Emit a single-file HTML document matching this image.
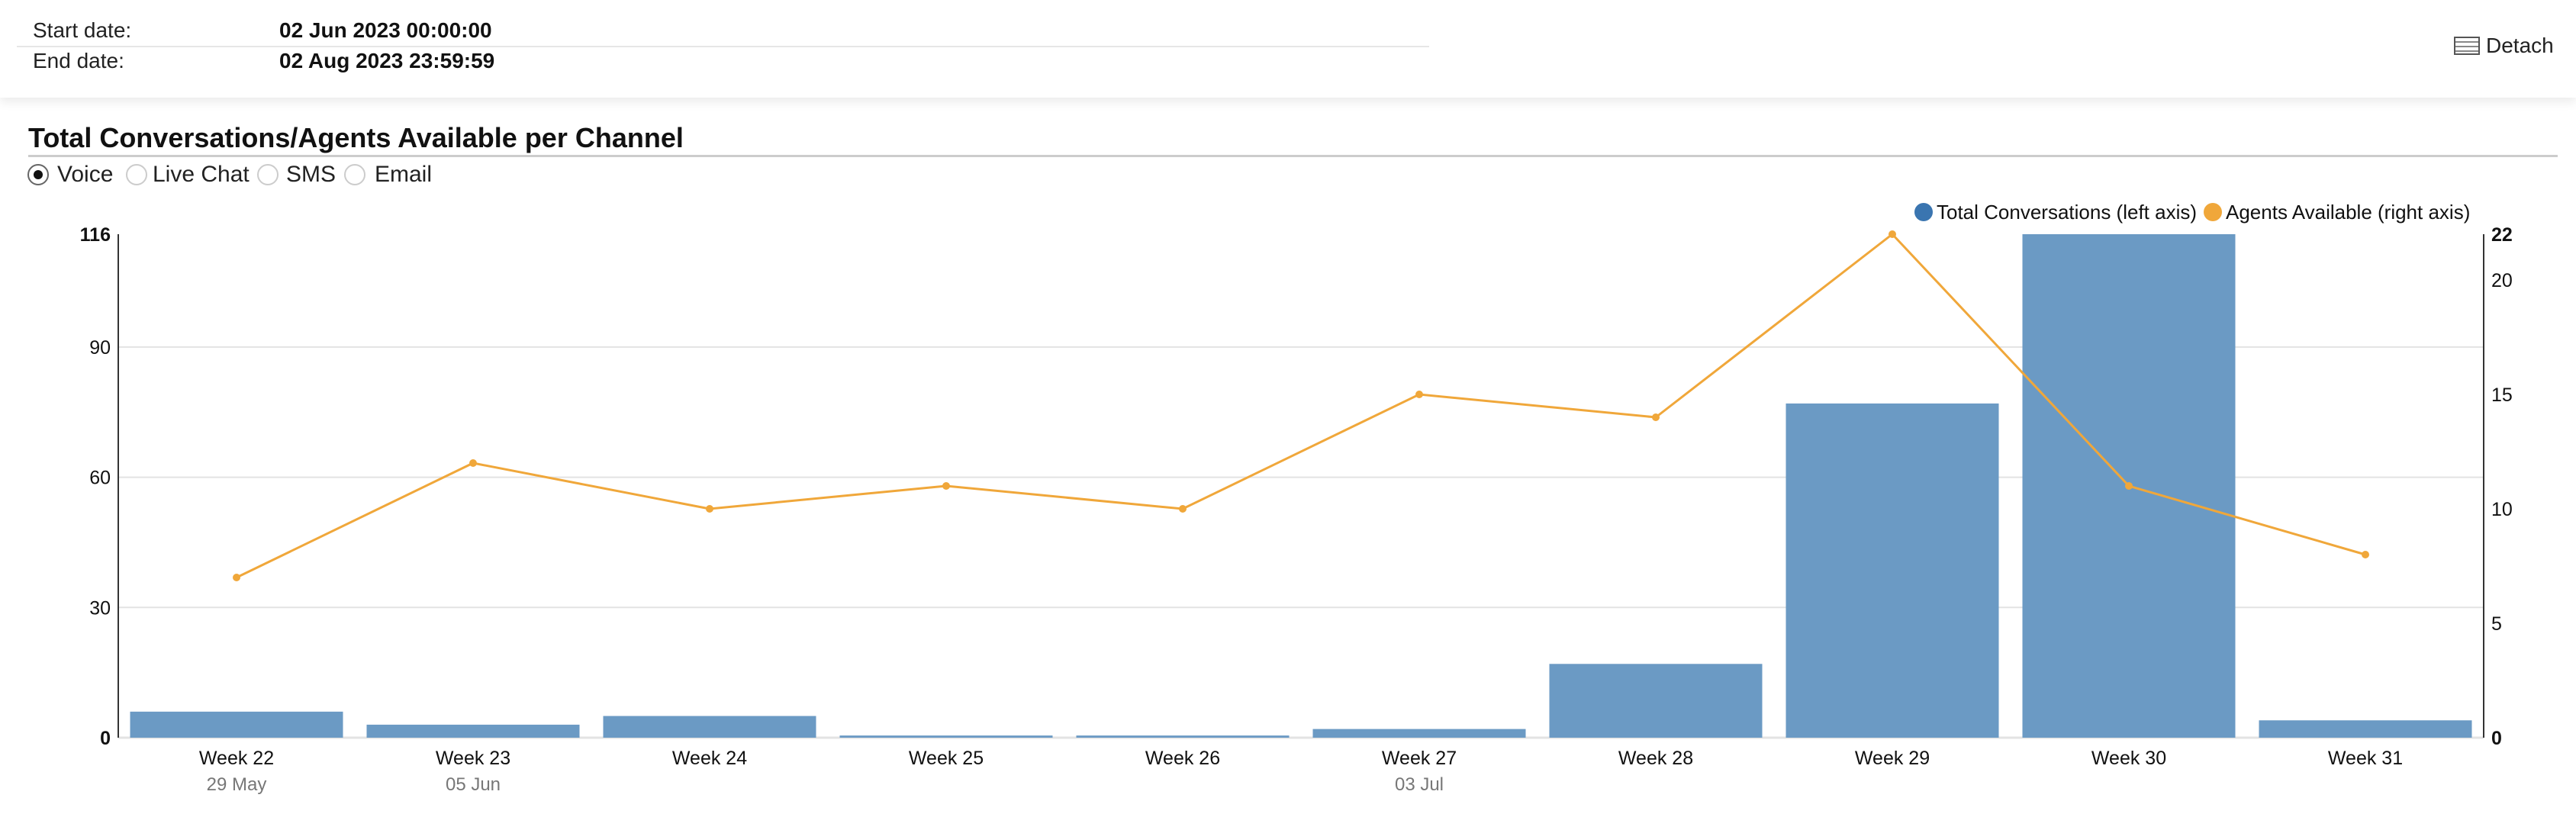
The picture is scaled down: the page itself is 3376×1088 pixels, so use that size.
<!DOCTYPE html>
<html><head><meta charset="utf-8"><style>
body{margin:0;width:3376px;height:1088px;background:#fff;font-family:"Liberation Sans",sans-serif;position:relative;overflow:hidden}
.abs{position:absolute;white-space:nowrap}
.hdr{position:absolute;left:0;top:0;width:3376px;height:128px;background:#fff;box-shadow:0 6px 12px rgba(0,0,0,0.08)}
.lbl{font-size:28px;color:#222}
.val{font-size:28px;font-weight:bold;color:#111}
.radio{position:absolute;top:215px;width:28px;height:28px;border:2px solid #ccc;border-radius:50%;box-sizing:border-box}
.rtxt{position:absolute;top:212px;font-size:30px;color:#222}
</style></head><body>
<div class="hdr">
 <div class="abs lbl" style="left:43px;top:24px">Start date:</div>
 <div class="abs val" style="left:366px;top:24px">02 Jun 2023 00:00:00</div>
 <div class="abs" style="left:22px;top:60px;width:1851px;height:2px;background:#e6e6e6"></div>
 <div class="abs lbl" style="left:43px;top:64px">End date:</div>
 <div class="abs val" style="left:366px;top:64px">02 Aug 2023 23:59:59</div>
 <div class="abs" style="left:3216px;top:44px;font-size:28px;color:#222"><span style="display:inline-block;width:34px;height:24px;border:2px solid #555;box-sizing:border-box;vertical-align:-3px;margin-right:8px;background:repeating-linear-gradient(#fff 0 4px,#888 4px 6px)"></span>Detach</div>
</div>
<div class="abs" style="left:37px;top:160px;font-size:36px;font-weight:bold;color:#111">Total Conversations/Agents Available per Channel</div>
<div class="abs" style="left:37px;top:203px;width:3315px;height:3px;background:#ccc"></div>
<div class="radio" style="left:36px;border-color:#666"><div style="position:absolute;left:6px;top:6px;width:12px;height:12px;border-radius:50%;background:#111"></div></div>
<div class="rtxt" style="left:75px">Voice</div>
<div class="radio" style="left:165px"></div>
<div class="rtxt" style="left:200px">Live Chat</div>
<div class="radio" style="left:337px"></div>
<div class="rtxt" style="left:375px">SMS</div>
<div class="radio" style="left:451px"></div>
<div class="rtxt" style="left:491px">Email</div>

<svg id="chart" width="3376" height="1088" style="position:absolute;left:0;top:0"></svg>
<script>
const categories=["Week 22","Week 23","Week 24","Week 25","Week 26","Week 27","Week 28","Week 29","Week 30","Week 31"];
const dateLabels=["29 May","05 Jun","","","","03 Jul","","","",""];
const conversations=[6,3,5,0.5,0.5,2,17,77,116,4];
const agents=[7,12,10,11,10,15,14,22,11,8];
const leftTicks=[0,30,60,90,116];
const rightTicks=[0,5,10,15,20,22];
const leftMax=116,rightMax=22;
const X0=155,X1=3255,Y0=967,Y1=307;
const svg=document.getElementById('chart');
const NS='http://www.w3.org/2000/svg';
const band=(X1-X0)/categories.length;
const xc=i=>X0+band*(i+0.5);
const yl=v=>Y0-(v/leftMax)*(Y0-Y1);
const yr=v=>Y0-(v/rightMax)*(Y0-Y1);
function mk(t,a){const e=document.createElementNS(NS,t);for(const k in a)e.setAttribute(k,a[k]);svg.appendChild(e);return e;}
leftTicks.forEach(v=>{
 if(v>0&&v<leftMax){const g=mk('line',{x1:X0,x2:X1,y1:yl(v),y2:yl(v),stroke:'#e3e3e3','stroke-width':2});
 
 }
 const t=mk('text',{x:X0-10,y:yl(v)+9,'text-anchor':'end','font-size':25,'font-weight':(v==0||v==leftMax)?'bold':'normal',fill:'#111'});
 t.textContent=v;
 
 
});
rightTicks.forEach(v=>{
 const t=mk('text',{x:X1+10,y:yr(v)+9,'font-size':25,'font-weight':(v==0||v==rightMax)?'bold':'normal',fill:'#111'});
 t.textContent=v;
 
 
});
const base=mk('line',{x1:X0,x2:X1,y1:Y0,y2:Y0,stroke:'#e3e3e3','stroke-width':3});


const la=mk('line',{x1:X0,x2:X0,y1:Y1,y2:Y0,stroke:'#333','stroke-width':2});


const ra=mk('line',{x1:X1,x2:X1,y1:Y1,y2:Y0,stroke:'#333','stroke-width':2});


const bw=band*0.9;
conversations.forEach((v,i)=>{
 const r=mk('rect',{x:xc(i)-bw/2,y:yl(v),width:bw,height:Y0-yl(v),fill:'#6b9ac4'});
 
 
 const t=mk('text',{x:xc(i),y:1002,'text-anchor':'middle','font-size':25,fill:'#111'});
 t.textContent=categories[i];
 
 
 if(dateLabels[i]){const d=mk('text',{x:xc(i),y:1036,'text-anchor':'middle','font-size':24,fill:'#777'});
 d.textContent=dateLabels[i];
 
 }
});
const pl=mk('polyline',{points:agents.map((v,i)=>xc(i)+','+yr(v)).join(' '),fill:'none',stroke:'#f0a73a','stroke-width':3});


agents.forEach((v,i)=>{
 const c=mk('circle',{cx:xc(i),cy:yr(v),r:5,fill:'#f0a73a'});
 
 
});
const l1=mk('circle',{cx:2521,cy:278,r:12,fill:'#3a75b0'});


const lt1=mk('text',{x:2538,y:287,'font-size':26,fill:'#111'});
lt1.textContent='Total Conversations (left axis)';


const l2=mk('circle',{cx:2900,cy:278,r:12,fill:'#f0a73a'});


const lt2=mk('text',{x:2917,y:287,'font-size':26,fill:'#111'});
lt2.textContent='Agents Available (right axis)';


</script>
</body></html>
